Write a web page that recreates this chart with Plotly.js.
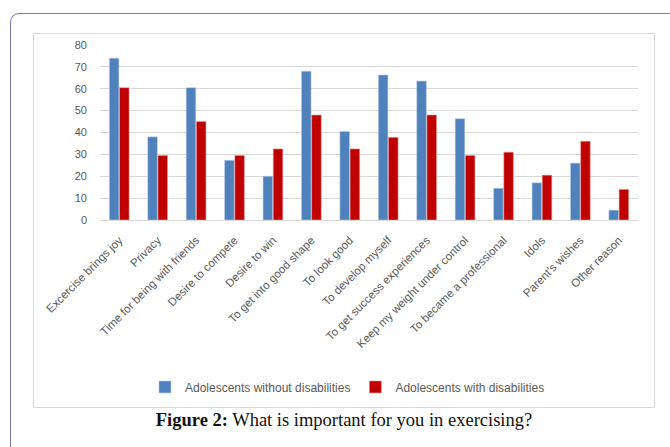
<!DOCTYPE html>
<html>
<head>
<meta charset="utf-8">
<script src="https://cdn.plot.ly/plotly-3.0.1.min.js"></script>
<style>
  html, body { margin: 0; padding: 0; background: #ffffff; width: 670px; height: 447px; overflow: hidden; }
  #outer { position: absolute; left: 10px; top: 13px; width: 700px; height: 460px; border: 1px solid #7d74b0; border-radius: 9px; box-sizing: border-box; }
  #chart { position: absolute; left: 33px; top: 33px; width: 622px; height: 375px; border: 1px solid #d9d9d9; box-sizing: border-box; }
  #caption { position: absolute; left: 0; top: 407px; width: 688px; text-align: center; font-family: "Liberation Serif", "Times New Roman", serif; font-size: 18.5px; color: #111; line-height: 26px; }
</style>
</head>
<body>
<div id="outer"></div>
<div id="chart"></div>
<div id="caption"><b>Figure 2:</b> What is important for you in exercising?</div>
<script>
const categories = [
  "Excercise brings joy", "Privacy", "Time for being with friends", "Desire to compete",
  "Desire to win", "To get into good shape", "To look good", "To develop myself",
  "To get success experiences", "Keep my weight under control", "To became a professional",
  "Idols", "Parent's wishes", "Other reason"
];
const withoutDisabilities = [74, 38, 60.5, 27.3, 20, 68, 40.5, 66.3, 63.5, 46.3, 14.5, 17, 26, 4.5];
const withDisabilities = [60.5, 29.5, 45, 29.5, 32.5, 48, 32.5, 37.8, 48, 29.5, 31, 20.5, 36, 14];
const seriesNames = ["Adolescents without disabilities", "Adolescents with disabilities"];
const yTicks = [0, 10, 20, 30, 40, 50, 60, 70, 80];

const traces = [
  { type: "bar", name: seriesNames[0], x: categories, y: withoutDisabilities,
    marker: { color: "#4f81bd", line: { color: "#b9cde5", width: 0.6 } } },
  { type: "bar", name: seriesNames[1], x: categories, y: withDisabilities,
    marker: { color: "#c00000", line: { color: "#e6a0a0", width: 0.6 } } }
];

const layout = {
  width: 620, height: 373,
  margin: { l: 66, r: 16, t: 11, b: 187, pad: 0, autoexpand: false },
  paper_bgcolor: "rgba(0,0,0,0)", plot_bgcolor: "#ffffff",
  barmode: "group", bargap: 0.47, bargroupgap: 0.06,
  font: { family: "Liberation Sans, Arial, sans-serif", size: 11, color: "#595959" },
  xaxis: {
    tickangle: -45, tickfont: { size: 11.5, color: "#595959" },
    showline: true, linecolor: "#d9d9d9", linewidth: 1, ticks: "", showgrid: false,
    ticklabelstandoff: 8, automargin: false
  },
  yaxis: {
    range: [0, 80], tickvals: yTicks, ticktext: yTicks.map(String),
    tickfont: { size: 11, color: "#595959" },
    showgrid: true, gridcolor: "#d9d9d9", gridwidth: 1, zeroline: false,
    ticks: "", ticklen: 0, ticklabelstandoff: 12, automargin: false
  },
  showlegend: true,
  legend: {
    orientation: "h", x: 0.46, xanchor: "center", y: -0.954, yanchor: "middle",
    font: { size: 12, color: "#595959" }, itemwidth: 30, tracegroupgap: 0,
    bgcolor: "rgba(0,0,0,0)"
  }
};

Plotly.newPlot("chart", traces, layout, { displayModeBar: false, staticPlot: true });
</script>
</body>
</html>
